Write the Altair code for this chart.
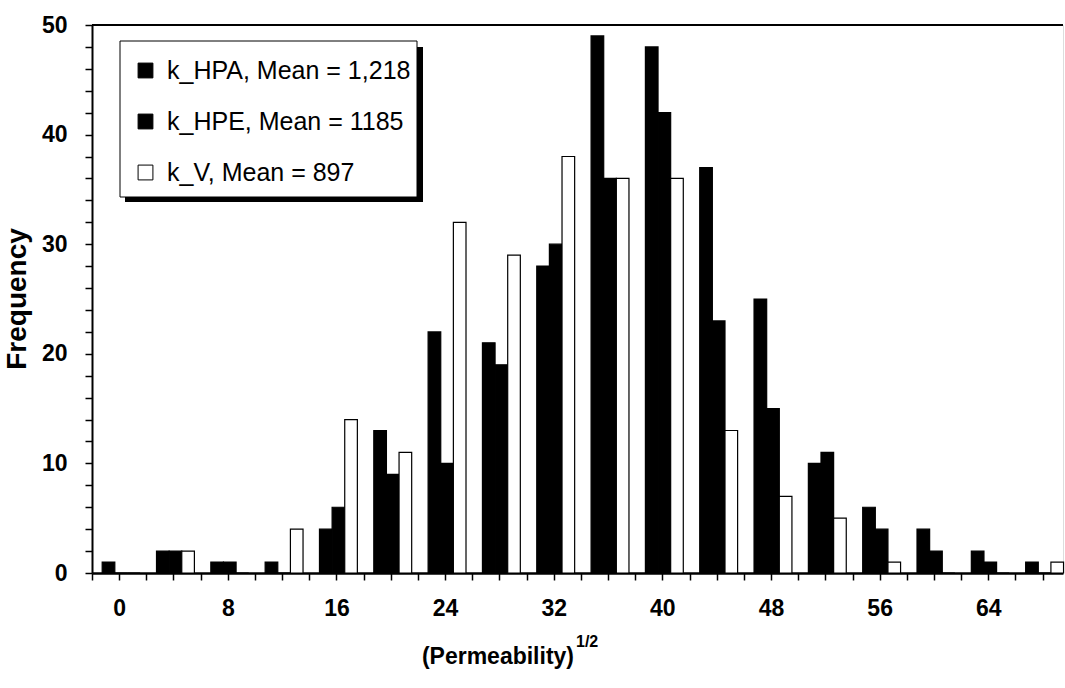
import altair as alt
import pandas as pd

# --- data -------------------------------------------------------------------
bins = list(range(0, 72, 4))          # (Permeability)^1/2 class centres
hpa = [1, 2, 1, 1, 4, 13, 22, 21, 28, 49, 48, 37, 25, 10, 6, 4, 2, 1]
hpe = [0, 2, 1, 0, 6, 9, 10, 19, 30, 36, 42, 23, 15, 11, 4, 2, 1, 0]
kv = [0, 2, 0, 4, 14, 11, 32, 29, 38, 36, 36, 13, 7, 5, 1, 0, 0, 1]
series = ["k_HPA, Mean = 1,218", "k_HPE, Mean = 1185", "k_V, Mean = 897"]
fills = ["black", "black", "white"]
x_ticks = list(range(-2, 70, 2))
y_ticks = list(range(0, 52, 2))

rows = []
for i, b in enumerate(bins):
    for j, vals in enumerate([hpa, hpe, kv]):
        rows.append({"bin": b, "series": series[j], "idx": j, "value": vals[i]})
df = pd.DataFrame(rows)

FONT = "Liberation Sans"
W, H = 971, 548
BAR_W = 0.93
OFF = 1.25

bars = (
    alt.Chart(df)
    .transform_calculate(
        x0=f"datum.bin - {OFF} + datum.idx * {BAR_W}",
        x1=f"datum.bin - {OFF} + (datum.idx + 1) * {BAR_W}",
    )
    .mark_bar(stroke="black", strokeWidth=1.2)
    .encode(
        x=alt.X(
            "x0:Q",
            scale=alt.Scale(domain=[-2, 69.5], nice=False, zero=False),
            axis=alt.Axis(
                values=x_ticks,
                tickCount=200,
                format="d",
                labelExpr="datum.value >= 0 && datum.value % 8 == 0 ? datum.label : ''",
                labelOverlap=False,
                title=None,
                grid=False,
                domainColor="black",
                domainWidth=2.5,
                tickColor="black",
                tickWidth=1.5,
                tickSize=7,
                labelPadding=17,
                labelFont=FONT,
                labelFontSize=23,
                labelColor="black",
                labelFontWeight="bold",
            ),
        ),
        x2="x1:Q",
        y=alt.Y(
            "value:Q",
            scale=alt.Scale(domain=[0, 50], nice=False),
            axis=alt.Axis(
                values=y_ticks,
                tickCount=200,
                format="d",
                labelExpr="datum.value % 10 == 0 ? datum.label : ''",
                labelOverlap=False,
                title=None,
                grid=False,
                domainColor="black",
                domainWidth=2,
                tickColor="black",
                tickWidth=1.5,
                tickSize=7,
                labelPadding=18,
                labelFont=FONT,
                labelFontSize=23,
                labelColor="black",
                labelFontWeight="bold",
            ),
        ),
        y2=alt.datum(0),
        color=alt.Color(
            "series:N",
            scale=alt.Scale(domain=series, range=fills),
            legend=alt.Legend(
                orient="none",
                legendX=41,
                legendY=33,
                title=None,
                symbolType="square",
                symbolSize=220,
                symbolStrokeColor="black",
                symbolStrokeWidth=1,
                labelFont=FONT,
                labelFontSize=25,
                labelColor="black",
                labelLimit=500,
                labelOffset=9,
                rowPadding=25,
                padding=0,
            ),
        ),
    )
)

one = pd.DataFrame({"a": [0]})

top_line = alt.Chart(one).mark_rule(color="black", strokeWidth=2).encode(y=alt.datum(50))

# legend frame with its drop shadow
shadow = (
    alt.Chart(one)
    .mark_rect(color="black")
    .encode(x=alt.value(33), x2=alt.value(331), y=alt.value(22), y2=alt.value(177))
)
frame = (
    alt.Chart(one)
    .mark_rect(fill="white", stroke="black", strokeWidth=1)
    .encode(x=alt.value(28), x2=alt.value(325), y=alt.value(16), y2=alt.value(172))
)

y_title = (
    alt.Chart(pd.DataFrame({"t": ["Frequency"]}))
    .mark_text(angle=270, font=FONT, fontSize=28, fontWeight="bold", color="black",
               align="center", baseline="middle")
    .encode(text="t:N", x=alt.value(-74), y=alt.value(H / 2))
)

x_title = (
    alt.Chart(pd.DataFrame({"t": ["(Permeability)"]}))
    .mark_text(font=FONT, fontSize=23, fontWeight="bold", color="black",
               align="right", baseline="alphabetic")
    .encode(text="t:N", x=alt.value(482), y=alt.value(639))
)

x_sup = (
    alt.Chart(pd.DataFrame({"t": ["1/2"]}))
    .mark_text(font=FONT, fontSize=16, fontWeight="bold", color="black",
               align="left", baseline="alphabetic")
    .encode(text="t:N", x=alt.value(484), y=alt.value(622))
)

chart = (
    alt.layer(shadow, frame, bars, top_line, y_title, x_title, x_sup)
    .properties(
        width=W,
        height=H,
        autosize=alt.AutoSizeParams(type="none"),
        padding={"left": 92, "top": 25, "right": 2, "bottom": 115},
    )
    .configure_view(stroke=None)
    .configure(background="white")
)

chart.save("out.html", embed_options={"renderer": "svg", "actions": False})
